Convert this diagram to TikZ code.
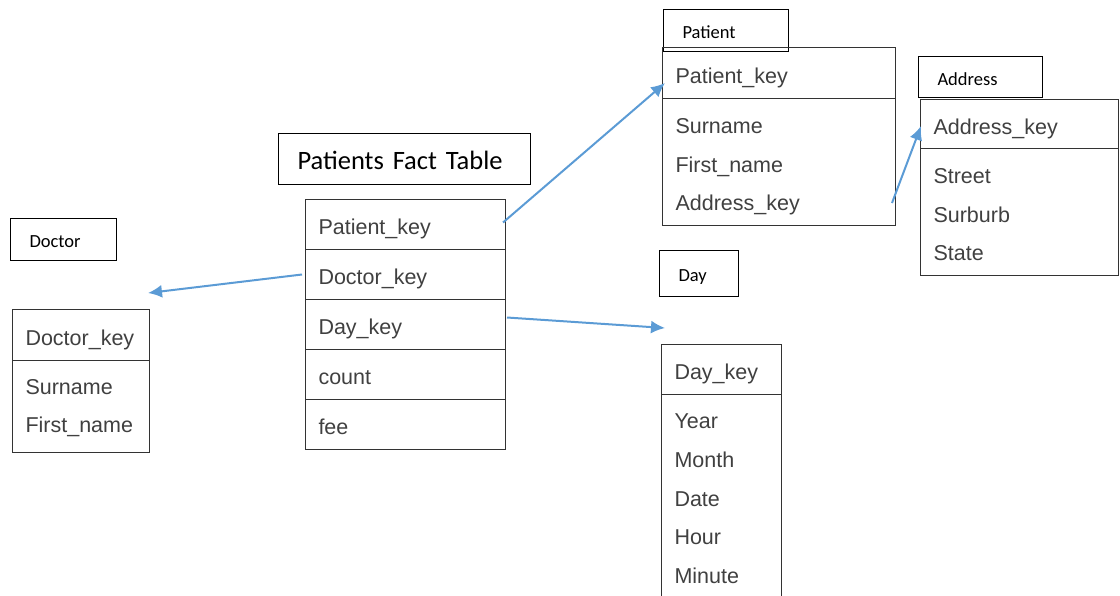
\documentclass[tikz,border=0pt]{standalone}
\usepackage{fontspec}
\setmainfont{Liberation Sans}
\newfontfamily\calibri{Carlito}
\usetikzlibrary{arrows.meta,calc,positioning}
\definecolor{fkblue}{HTML}{5B9BD5}
\definecolor{fieldgray}{HTML}{404040}
\tikzset{tbltitle/.style={draw=black, line width=1pt, anchor=north west, inner xsep=19pt, inner ysep=0pt, align=left, text height=16pt, text depth=0pt, font=\calibri\fontsize{18.5}{22}\selectfont}}
\tikzset{tblrow/.style={draw=black!80, line width=1pt, anchor=north west, inner xsep=13pt, inner ysep=0pt, align=left, text=fieldgray, text height=20pt, text depth=0pt, font=\fontsize{21.5}{38.75}\selectfont}}
\tikzset{tblbody/.style={tblrow, text depth=#1}}
\tikzset{fk/.style={draw=fkblue, line width=2pt, -{Latex[length=14pt,width=13pt]}}}

\begin{document}
\begin{tikzpicture}[x=1pt, y=-1pt]
    \useasboundingbox (0,0) rectangle (1120,595);

    % fact table
    \node[tbltitle, text width=214pt, minimum height=51pt, text height=20pt, font=\calibri\fontsize{26.5}{30}\selectfont] (fact) at (278,133) {Patients Fact Table};
    \node[tblrow, text width=174pt, minimum height=50pt] (fpat) at (305,199) {Patient\_key};
    \node[tblrow, text width=174pt, minimum height=50pt] (fdoc) at (305,249) {Doctor\_key};
    \node[tblrow, text width=174pt, minimum height=50pt] (fday) at (305,299) {Day\_key};
    \node[tblrow, text width=174pt, minimum height=50pt] (fcnt) at (305,349) {count};
    \node[tblrow, text width=174pt, minimum height=50pt] (ffee) at (305,399) {fee};

    % doctor
    \node[tbltitle, text width=68pt, minimum height=42pt] (doc) at (10,218) {Doctor};
    \node[tblrow, text width=111pt, minimum height=51pt] (dockey) at (12,309) {Doctor\_key};
    \node[tblbody=45pt, text width=111pt, minimum height=92pt] (docbody) at (12,360) {Surname\\First\_name};

    % patient
    \node[tbltitle, text width=87pt, minimum height=42pt] (pat) at (663,9) {Patient};
    \node[tblrow, text width=207pt, minimum height=51pt] (patkey) at (662,47) {Patient\_key};
    \node[tblbody=77.5pt, text width=207pt, minimum height=127pt] (patbody) at (662,98) {Surname\\First\_name\\Address\_key};

    % address
    \node[tbltitle, text width=86pt, minimum height=41pt] (addr) at (918,56) {Address};
    \node[tblrow, text width=172pt, minimum height=49pt] (addrkey) at (920,99) {Address\_key};
    \node[tblbody=77.5pt, text width=172pt, minimum height=127pt] (addrbody) at (920,148) {Street\\Surburb\\State};

    % day
    \node[tbltitle, text width=41pt, minimum height=46pt] (day) at (659,250) {Day};
    \node[tblrow, text width=94pt, minimum height=50pt] (daykey) at (661,344) {Day\_key};
    \node[tblbody=155pt, text width=94pt, minimum height=203pt] (daybody) at (661,394) {Year\\Month\\Date\\Hour\\Minute};

    % foreign keys
    \coordinate (patin) at (665,83);
    \coordinate (docin) at (148,293);
    \coordinate (dayin) at (665,328);
    \coordinate (addrout) at (892,203);
    \draw[fk] ([shift={(-3pt,2pt)}]fpat.east) -- (patin);
    \draw[fk] ([shift={(-3pt,0pt)}]fdoc.west) -- (docin);
    \draw[fk] ([shift={(1pt,7pt)}]fday.east) -- (dayin);
    \draw[fk] (addrout) -- ([shift={(1pt,-2pt)}]addrkey.west);
\end{tikzpicture}
\end{document}
